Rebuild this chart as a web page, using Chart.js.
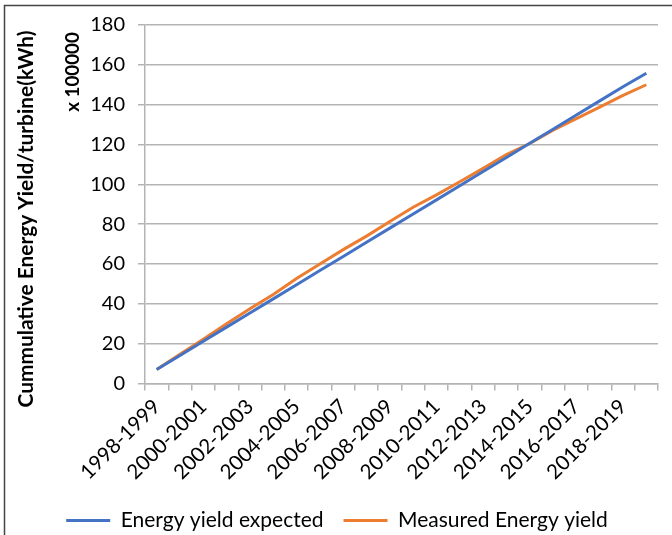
<!DOCTYPE html>
<html>
<head>
<meta charset="utf-8">
<script src="https://cdn.jsdelivr.net/npm/chart.js@4.4.0/dist/chart.umd.min.js"></script>
<style>
  html, body { margin: 0; padding: 0; background: #fff; }
  #grafica { display: block; }
</style>
</head>
<body>
<canvas id="grafica" width="672" height="535"></canvas>
<script>
// Categorias (temporadas) y series
const temporadas = [
    '1998-1999', '1999-2000', '2000-2001', '2001-2002', '2002-2003', '2003-2004',
    '2004-2005', '2005-2006', '2006-2007', '2007-2008', '2008-2009', '2009-2010',
    '2010-2011', '2011-2012', '2012-2013', '2013-2014', '2014-2015', '2015-2016',
    '2016-2017', '2017-2018', '2018-2019', '2019-2020'
];
const esperado = [7, 14.1, 21.2, 28.3, 35.4, 42.5, 49.6, 56.7, 63.8, 70.9, 78,
    85.1, 92.2, 99.3, 106.4, 113.5, 120.6, 127.7, 134.8, 141.9, 149, 155.8];
const medido = [7, 14.7, 22.2, 30, 37.5, 44.7, 52.7, 60, 67.2, 74, 81.3,
    88.5, 94.7, 101.3, 108, 115, 120.5, 127.2, 133, 138.8, 144.7, 150];
const ticksY = [0, 20, 40, 60, 80, 100, 120, 140, 160, 180];

const fuente = 'Lato, "Open Sans", sans-serif';
const gris = '#b4b4b4';

// Titulos del eje y y marco exterior
const extras = {
    id: 'extras',
    afterDraw(chart) {
        const ctx = chart.ctx;
        ctx.save();
        // marco
        ctx.strokeStyle = '#444';
        ctx.lineWidth = 1.5;
        ctx.beginPath();
        ctx.moveTo(4.5, 535);
        ctx.lineTo(4.5, 5.5);
        ctx.lineTo(672, 5.5);
        ctx.stroke();

        ctx.fillStyle = '#000';
        ctx.textAlign = 'center';
        ctx.textBaseline = 'middle';

        // titulo principal, ajustado a su largo en la imagen
        const t1 = 'Cummulative Energy Yield/turbine(kWh)';
        ctx.font = 'bold 18px ' + fuente;
        let s1 = 18 * 378 / ctx.measureText(t1).width;
        ctx.font = 'bold ' + s1.toFixed(1) + 'px ' + fuente;
        ctx.save();
        ctx.translate(26, 219);
        ctx.rotate(-Math.PI / 2);
        ctx.fillText(t1, 0, 0);
        ctx.restore();

        const t2 = 'x 100000';
        ctx.font = 'bold 16px ' + fuente;
        let s2 = 16 * 80 / ctx.measureText(t2).width;
        ctx.font = 'bold ' + s2.toFixed(1) + 'px ' + fuente;
        ctx.save();
        ctx.translate(73, 72);
        ctx.rotate(-Math.PI / 2);
        ctx.fillText(t2, 0, 0);
        ctx.restore();
        ctx.restore();
    }
};

const ctx = document.getElementById('grafica').getContext('2d');
const grafica = new Chart(ctx, {
    type: 'line',
    data: {
        labels: temporadas,
        datasets: [{
            label: 'Energy yield expected',
            data: esperado,
            borderColor: '#4472C4',
            backgroundColor: '#4472C4',
            borderWidth: 3,
            pointRadius: 0,
            tension: 0
        }, {
            label: 'Measured Energy yield',
            data: medido,
            borderColor: '#ED7D31',
            backgroundColor: '#ED7D31',
            borderWidth: 3,
            pointRadius: 0,
            tension: 0
        }]
    },
    options: {
        responsive: false,
        animation: false,
        layout: { padding: { left: 16, right: 14, top: 23, bottom: -6 } },
        plugins: {
            legend: {
                position: 'bottom',
                labels: {
                    color: '#000',
                    font: { family: fuente, size: 21 },
                    boxWidth: 44,
                    boxHeight: 0,
                    padding: 20
                }
            },
            tooltip: { enabled: false },
            title: { display: false }
        },
        scales: {
            x: {
                offset: true,
                grid: {
                    offset: true,
                    drawOnChartArea: false,
                    drawTicks: true,
                    tickLength: 7,
                    color: gris,
                    lineWidth: 1.5
                },
                border: { color: gris, width: 1.5 },
                ticks: {
                    autoSkip: false,
                    maxRotation: 45,
                    minRotation: 45,
                    padding: 4,
                    color: '#000',
                    font: { family: fuente, size: 20.5 },
                    callback: function (valor, i) {
                        return i % 2 === 0 ? temporadas[i] : '';
                    }
                },
                afterFit: (escala) => { escala.height = 106.5; }
            },
            y: {
                min: ticksY[0],
                max: ticksY[ticksY.length - 1],
                grid: {
                    color: gris,
                    lineWidth: 1.5,
                    drawTicks: true,
                    tickLength: 7
                },
                border: { color: gris, width: 1.5 },
                ticks: {
                    stepSize: 20,
                    padding: 13,
                    color: '#000',
                    font: { family: fuente, size: 20 }
                },
                afterFit: (escala) => { escala.width = 129; }
            }
        }
    },
    plugins: [extras]
});
</script>
</body>
</html>
